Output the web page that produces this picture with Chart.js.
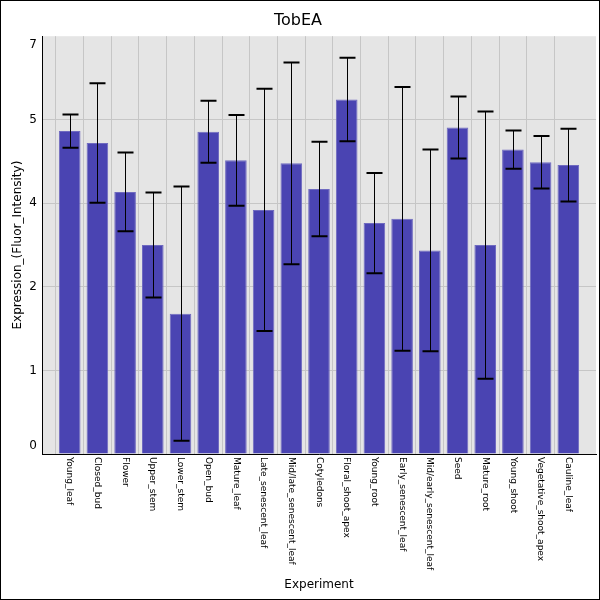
<!DOCTYPE html>
<html>
<head>
<meta charset="utf-8">
<script src="https://cdn.jsdelivr.net/npm/chart.js@4.4.1/dist/chart.umd.min.js"></script>
<style>
  body { margin: 0; background: #fff; }
  canvas { display: block; }
</style>
</head>
<body>
<canvas id="tobChart" width="600" height="600"></canvas>
<script>
// Datos del grafico
const categories = [
  "Young_leaf", "Closed_bud", "Flower", "Upper_stem", "Lower_stem",
  "Open_bud", "Mature_leaf", "Late_senescent_leaf", "Mid/late_senescent_leaf",
  "Cotyledons", "Floral_shoot_apex", "Young_root", "Early_senescent_leaf",
  "Mid/early_senescent_leaf", "Seed", "Mature_root", "Young_shoot",
  "Vegetative_shoot_apex", "Cauline_leaf",
];
const means = [5.41, 5.21, 4.39, 3.50, 2.35, 5.40, 4.92, 4.09, 4.87, 4.44, 5.94, 3.87, 3.94, 3.41, 5.47, 3.50, 5.10, 4.89, 4.84];
const sd = [0.28, 1.00, 0.66, 0.88, 2.13, 0.52, 0.76, 2.03, 1.69, 0.79, 0.70, 0.84, 2.21, 1.69, 0.52, 2.24, 0.32, 0.44, 0.61];
const yTicks = [0, 1.4, 2.8, 4.2, 5.6, 7];

const barPoints = means.map((v, i) => ({ x: i, y: v }));

/* fondo gris del area de trazado y marco exterior */
const backgroundPlugin = {
  id: 'plotBackground',
  beforeDraw(chart) {
    const { ctx, chartArea: a } = chart;
    ctx.save();
    ctx.fillStyle = '#e5e5e5';
    ctx.fillRect(a.left, a.top, a.right - a.left, a.bottom - a.top);
    ctx.restore();
  },
  afterDraw(chart) {
    const ctx = chart.ctx;
    ctx.save();
    ctx.strokeStyle = '#000';
    ctx.lineWidth = 1;
    ctx.strokeRect(0.5, 0.5, chart.width - 1, chart.height - 1);
    ctx.restore();
  }
};

/* barras de error + etiquetas de los ejes */
const errorBarPlugin = {
  id: 'errorBars',
  afterDatasetsDraw(chart) {
    const ctx = chart.ctx;
    const xs = chart.scales.x, ys = chart.scales.y;
    ctx.save();
    ctx.strokeStyle = '#000';
    means.forEach((m, i) => {
      const x = Math.round(xs.getPixelForValue(i)) + 0.5;
      const yHi = ys.getPixelForValue(m + sd[i]);
      const yLo = ys.getPixelForValue(m - sd[i]);
      ctx.lineWidth = 1;
      ctx.beginPath();
      ctx.moveTo(x, yHi);
      ctx.lineTo(x, yLo);
      ctx.stroke();
      ctx.lineWidth = 2;
      ctx.beginPath();
      ctx.moveTo(x - 8, yHi);
      ctx.lineTo(x + 8, yHi);
      ctx.moveTo(x - 8, yLo);
      ctx.lineTo(x + 8, yLo);
      ctx.stroke();
    });
    ctx.restore();
  },
  afterDraw(chart) {
    const ctx = chart.ctx;
    const xs = chart.scales.x, ys = chart.scales.y;
    ctx.save();
    ctx.fillStyle = '#000';
    // etiquetas de categorias, giradas hacia abajo
    ctx.font = '9px "DejaVu Sans"';
    ctx.textAlign = 'left';
    ctx.textBaseline = 'middle';
    categories.forEach((c, i) => {
      const x = xs.getPixelForValue(i);
      ctx.save();
      ctx.translate(x, ys.bottom + 3);
      ctx.rotate(Math.PI / 2);
      ctx.fillText(c, 0, 0);
      ctx.restore();
    });
    // etiquetas del eje y (valores truncados)
    ctx.font = '12px "DejaVu Sans"';
    ctx.textAlign = 'right';
    yTicks.forEach((t, i) => {
      let y = ys.getPixelForValue(t);
      if (i === 0) y -= 8;
      if (i === yTicks.length - 1) y += 9;
      ctx.fillText(String(Math.floor(t + 1e-6)), ys.right - 5, y);
    });
    ctx.restore();
  }
};

var ctx = document.getElementById('tobChart').getContext('2d');

var tobChart = new Chart(ctx, {
  type: 'bar',
  plugins: [backgroundPlugin, errorBarPlugin],
  data: {
    datasets: [{
      data: barPoints,
      backgroundColor: '#4a44b2',
      borderColor: '#6f6ac0',
      borderWidth: 1,
      borderSkipped: 'bottom',
      barPercentage: 0.78,
      categoryPercentage: 1,
    }],
  },
  options: {
    responsive: false,
    animation: false,
    devicePixelRatio: 1,
    layout: { padding: { left: 0, right: 4, top: 0, bottom: 0 } },
    plugins: {
      legend: { display: false },
      tooltip: { enabled: false },
      title: {
        display: true,
        text: 'TobEA',
        color: '#000',
        font: { family: '"DejaVu Sans"', size: 16, weight: 'normal' },
        padding: { top: 11, bottom: 6 },
      },
    },
    scales: {
      x: {
        type: 'linear',
        min: -1,
        max: categories.length,
        offset: false,
        afterFit: (s) => { s.height = 146; },
        ticks: { display: false, stepSize: 1 },
        grid: {
          drawTicks: false,
          color: (c) => (c.tick && (c.tick.value < 0 || c.tick.value >= categories.length)) ? 'rgba(0,0,0,0)' : '#c6c6c6',
        },
        border: { color: '#000', width: 1 },
        title: {
          display: true,
          text: 'Experiment',
          color: '#000',
          font: { family: '"DejaVu Sans"', size: 12 },
          padding: { top: 0, bottom: 8 },
        },
      },
      y: {
        min: 0,
        max: 7,
        afterFit: (s) => { s.width = 42; },
        afterBuildTicks: (s) => { s.ticks = yTicks.map(v => ({ value: v })); },
        ticks: { display: false },
        grid: {
          drawTicks: false,
          color: (c) => (c.tick && c.tick.value >= 7) ? 'rgba(0,0,0,0)' : '#c6c6c6',
        },
        border: { color: '#000', width: 1 },
        title: {
          display: true,
          text: 'Expression_(Fluor_Intensity)',
          color: '#000',
          font: { family: '"DejaVu Sans"', size: 12 },
          padding: { top: 11, bottom: 0 },
        },
      },
    },
  },
});
</script>
</body>
</html>
